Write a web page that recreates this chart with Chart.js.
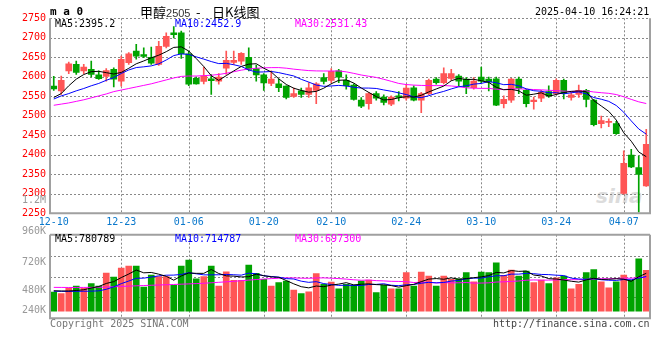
<!DOCTYPE html>
<html lang="zh-CN">
<head>
<meta charset="utf-8">
<title>甲醇2505 - 日K线图</title>
<script src="https://cdn.jsdelivr.net/npm/chart.js@4.4.1/dist/chart.umd.min.js"></script>
<style>
  html, body { margin: 0; padding: 0; background: #fff; }
  #wrap { position: relative; width: 660px; height: 360px; overflow: hidden;
          font-family: "DejaVu Sans Mono", monospace; font-size: 10px; }
  #wrap canvas { position: absolute; left: 0; top: 0; }
  .t { position: absolute; white-space: pre; line-height: 12px; z-index: 3; }
  .r { left: 6px; width: 40px; text-align: right; color: #999; }
  .wm { position: absolute; z-index: 0; left: 596px; top: 184px; font: italic bold 20px "DejaVu Sans", sans-serif; color: #dcdcdc; }
</style>
</head>
<body>
<div id="wrap">
  <div class="wm">sina</div>
  <canvas id="vol" width="660" height="360" style="z-index:1"></canvas>
  <canvas id="kline" width="660" height="360" style="z-index:2"></canvas>

  <!-- 상단 제목줄 -->
  <div class="t" style="left:50px;top:6px;font-weight:bold;font-size:11px;">m a 0</div>
  <div class="t" style="left:140px;top:5px;font:13px 'Noto Sans CJK SC';line-height:14px;">甲醇<span style="font:11px 'Liberation Sans';color:#333;">2505</span></div>
  <div class="t" style="left:196px;top:5px;font:13px 'Noto Sans CJK SC';line-height:14px;">-</div>
  <div class="t" style="left:212px;top:5px;font:13px 'Noto Sans CJK SC';line-height:14px;">日K线图</div>
  <div class="t" style="left:535px;top:6px;">2025-04-10 16:24:21</div>

  <!-- K선 이동평균 범례 -->
  <div class="t" style="left:55px;top:18px;color:#000;">MA5:2395.2</div>
  <div class="t" style="left:175px;top:18px;color:#0000ff;">MA10:2452.9</div>
  <div class="t" style="left:295px;top:18px;color:#ff00ff;">MA30:2531.43</div>

  <!-- 거래량 축 라벨 (원본 위치 그대로) -->
  <div class="t r" style="top:194px;">1.2M</div>
  <div class="t r" style="top:225px;">960K</div>
  <div class="t r" style="top:256px;">720K</div>
  <div class="t r" style="top:284px;">480K</div>
  <div class="t r" style="top:304px;">240K</div>

  <!-- 거래량 범례 -->
  <div class="t" style="left:55px;top:233px;color:#000;">MA5:780789</div>
  <div class="t" style="left:175px;top:233px;color:#0000ff;">MA10:714787</div>
  <div class="t" style="left:295px;top:233px;color:#ff00ff;">MA30:697300</div>

  <div class="t" style="left:50px;top:318px;color:#777;">Copyright 2025 SINA.COM</div>
  <div class="t" style="left:493px;top:318px;color:#444;">http://finance.sina.com.cn</div>
</div>

<script>
'use strict'
/* 데이터 시작 */
// 거래일 (MM-DD)
const dates = ['12-10','12-11','12-12','12-13','12-16','12-17','12-18','12-19','12-20','12-23',
  '12-24','12-25','12-26','12-27','12-30','12-31','01-02','01-03','01-06','01-07',
  '01-08','01-09','01-10','01-13','01-14','01-15','01-16','01-17','01-20','01-21',
  '01-22','01-23','01-24','01-27','02-05','02-06','02-07','02-10','02-11','02-12',
  '02-13','02-14','02-17','02-18','02-19','02-20','02-21','02-24','02-25','02-26',
  '02-27','02-28','03-03','03-04','03-05','03-06','03-07','03-10','03-11','03-12',
  '03-13','03-14','03-17','03-18','03-19','03-20','03-21','03-24','03-25','03-26',
  '03-27','03-28','03-31','04-01','04-02','04-03','04-07','04-08','04-09','04-10'];

// x축에 표시되는 날짜
const tickDates = ['12-10','12-23','01-06','01-20','02-10','02-24','03-10','03-24','04-07'];

// 가격축 눈금
const priceMin = 2250, priceMax = 2750, priceStep = 50;

// 시가 / 종가 / 고가 / 저가
const openP = [2576,2564,2615,2632,2615,2619,2605,2601,2619,2589,
  2636,2666,2657,2650,2632,2678,2713,2713,2659,2596,
  2588,2595,2589,2622,2637,2640,2650,2621,2605,2583,
  2582,2576,2550,2564,2555,2565,2598,2591,2615,2591,
  2579,2540,2531,2557,2548,2530,2551,2545,2572,2540,
  2557,2594,2585,2596,2602,2594,2572,2599,2594,2595,
  2531,2540,2594,2565,2536,2545,2562,2557,2591,2547,
  2555,2565,2540,2480,2483,2480,2301,2399,2367,2320];
const closeP = [2569,2591,2633,2611,2625,2606,2595,2616,2594,2645,
  2659,2653,2652,2635,2678,2704,2708,2659,2581,2582,
  2602,2590,2599,2642,2642,2660,2619,2605,2584,2594,
  2572,2547,2557,2555,2572,2582,2588,2614,2599,2577,
  2542,2525,2557,2545,2534,2548,2547,2571,2540,2557,
  2591,2585,2608,2608,2589,2574,2589,2589,2587,2527,
  2542,2594,2570,2531,2540,2560,2551,2591,2557,2554,
  2565,2542,2477,2488,2485,2454,2378,2369,2350,2427];
const highP = [2601,2602,2638,2640,2632,2640,2615,2621,2623,2653,
  2662,2683,2674,2676,2691,2713,2729,2717,2666,2600,
  2625,2606,2608,2666,2666,2662,2674,2630,2608,2615,
  2594,2577,2571,2571,2585,2585,2608,2621,2619,2605,
  2582,2547,2560,2562,2554,2551,2562,2581,2577,2560,
  2594,2598,2623,2619,2606,2598,2598,2625,2599,2599,
  2551,2596,2599,2568,2548,2565,2577,2595,2594,2560,
  2579,2568,2542,2499,2492,2486,2410,2414,2397,2465];
const lowP = [2565,2555,2608,2606,2608,2600,2593,2589,2574,2576,
  2632,2645,2649,2632,2629,2674,2700,2647,2577,2581,
  2582,2555,2581,2606,2632,2632,2615,2589,2565,2577,
  2562,2543,2547,2547,2547,2531,2582,2585,2585,2568,
  2540,2521,2517,2540,2528,2526,2538,2540,2538,2508,
  2554,2581,2582,2591,2576,2557,2568,2585,2564,2526,
  2520,2534,2557,2523,2517,2536,2547,2554,2543,2540,
  2547,2523,2474,2469,2472,2452,2299,2367,2253,2319];

// 가격 이동평균선
const ma5 = [2547,2557,2577,2594,2605.8,2613.2,2614,2610.6,2607.2,2611.2,
  2621.8,2633.4,2640.6,2648.8,2655.4,2664.4,2675.4,2676.8,2666,2646.8,
  2626.4,2602.8,2590.8,2603,2615,2626.6,2632.4,2633.6,2622,2612.4,
  2594.8,2580.4,2570.8,2565,2560.6,2562.6,2570.8,2582.2,2591,2592,
  2584,2571.4,2560,2549.2,2540.6,2541.8,2546.2,2549,2548,2552.6,
  2561.2,2568.8,2576.2,2589.8,2596.2,2592.8,2593.6,2589.8,2585.6,2573.2,
  2566.8,2567.8,2564,2552.8,2555.4,2559,2550.4,2554.6,2559.8,2562.6,
  2563.6,2561.8,2539,2525.2,2511.4,2489.2,2456.4,2434.8,2407.2,2395.2];
const ma10 = [2543,2551,2557,2564,2570,2577,2583,2591,2598,2608.5,
  2617.5,2623.7,2625.6,2628,2633.3,2643.1,2654.4,2658.7,2657.4,2651.1,
  2645.4,2639.1,2633.8,2634.5,2630.9,2626.5,2617.6,2612.2,2612.5,2613.7,
  2610.7,2606.4,2602.2,2593.5,2586.5,2578.7,2575.6,2576.5,2578,2576.3,
  2573.3,2571.1,2571.1,2570.1,2566.3,2562.9,2558.8,2554.5,2548.6,2546.6,
  2551.5,2557.5,2562.6,2568.9,2574.4,2577,2581.2,2583,2587.7,2584.7,
  2579.8,2580.7,2576.9,2569.2,2564.3,2562.9,2559.1,2559.3,2556.3,2559,
  2561.3,2556.1,2546.8,2542.5,2537,2526.4,2509.1,2486.9,2466.2,2452.9];
const ma30 = [2527,2530,2533,2537,2541,2546,2551,2556,2562,2566,
  2570,2574,2578,2582,2587,2592,2597,2601,2602,2602,
  2603,2604,2606,2609,2613,2617,2620,2622,2623,2623.5,
  2623.6,2622.1,2619.6,2617.7,2615.9,2615.1,2614.9,2614.8,2615,2612.7,
  2608.8,2604.6,2601.4,2598.4,2593.6,2588.4,2583,2580.1,2578.7,2577.9,
  2577.5,2577.3,2577.6,2576.5,2574.7,2571.8,2570.8,2570.3,2570.4,2568.2,
  2567.2,2568.8,2569.2,2568.4,2567.3,2566.6,2565.4,2564.6,2563.2,2562.4,
  2563.2,2563.8,2561.1,2559.2,2557.6,2554.5,2548.8,2542.1,2535.8,2531.43];

// 거래량 (단위: 천)
const volume = [393,359,469,517,469,566,517,787,704,890,
  931,931,497,745,711,711,531,931,1056,669,
  711,931,517,814,635,635,952,780,656,517,
  587,621,435,359,400,773,552,600,462,552,
  538,621,642,380,531,462,462,794,517,807,
  725,517,725,656,669,794,607,807,794,1000,
  738,849,725,828,587,642,566,690,725,462,
  552,794,856,607,483,607,745,635,1083,842];
const volMa5 = [420,415,415,425,441,476,508,571,609,693,
  766,849,791,799,763,719,639,726,788,780,
  780,860,777,728,722,706,711,763,732,708,
  698,632,563,504,480,518,504,537,557,588,
  541,555,563,547,542,527,495,526,553,608,
  661,672,658,686,658,672,690,707,734,800,
  789,838,821,828,745,726,670,663,642,617,
  599,645,678,654,658,669,660,615,711,780.8];
const volMa10 = [410,408,406,408,410,412,418,450,500,567,
  621,678,681,704,728,742,744,758,793,771,
  749,749,751,758,751,743,785,770,730,715,
  702,671,663,618,594,608,568,550,531,534,
  529,529,550,552,565,534,525,544,550,575,
  594,584,592,620,633,667,681,682,710,729,
  731,764,764,781,773,758,754,742,735,681,
  663,657,670,648,638,634,652,647,682,714.8];
const volMa30 = [490,489,488,488,489,490,492,496,502,510,
  516,522,528,534,539,544,550,556,562,568,
  575,585,595,605,615,628,640,652,662,671.5,
  678,686.7,685.6,680.3,678,684.9,686.1,679.8,671.8,660.5,
  647.4,637,641.9,629.7,623.7,615.4,613.1,608.5,590.5,595.1,
  595.6,581.8,588.7,583.5,584.6,589.9,578.4,579.3,583.9,600,
  605,612.6,622.3,637.9,644.1,639.7,640.2,643.2,651.9,648.9,
  649.4,655.2,662.3,669.9,668.3,673.1,682.5,677.2,696.1,697.3];

// 거래량 축 범위 (원본 비율에 맞춤)
const volMin = -150, volMax = 1580;
/* 데이터 끝 */

const upColor = '#ff5555';   // 양봉
const downColor = '#00a300'; // 음봉
const gridColor = '#888888';
const frameColor = '#a0a0a0';

Chart.defaults.font.family = "'DejaVu Sans Mono', monospace";
Chart.defaults.font.size = 10;

// 봉 색상
const candleColor = closeP.map((c, i) => (c >= openP[i] ? upColor : downColor));

// 점선 격자 + 테두리 (축의 눈금 위치를 그대로 사용)
const framePlugin = {
  id: 'frame',
  beforeDatasetsDraw(chart) {
    const { ctx, chartArea: { left, right, top, bottom } } = chart;
    const xs = chart.scales.x, ys = chart.scales.y;
    ctx.save();
    ctx.strokeStyle = gridColor;
    ctx.lineWidth = 1;
    ctx.setLineDash([2, 2]);
    ctx.beginPath();
    ys.ticks.forEach((t, i) => {
      const y = Math.round(ys.getPixelForTick(i)) + 0.5;
      ctx.moveTo(left, y); ctx.lineTo(right, y);
    });
    xs.ticks.forEach((t, i) => {
      if (t.value === 0) return;
      const x = Math.round(xs.getPixelForTick(i)) + 0.5;
      ctx.moveTo(x, top); ctx.lineTo(x, bottom);
    });
    ctx.stroke();
    ctx.restore();
  },
  afterDatasetsDraw(chart, args, opts) {
    const { ctx, chartArea: { left, right, top, bottom } } = chart;
    ctx.save();
    ctx.strokeStyle = frameColor;
    ctx.lineWidth = 2;
    ctx.beginPath();
    if (opts.top) { ctx.moveTo(left, top); ctx.lineTo(right, top); }
    ctx.moveTo(left, top); ctx.lineTo(left, bottom);
    ctx.moveTo(right, top); ctx.lineTo(right, bottom);
    ctx.moveTo(left - 1, bottom); ctx.lineTo(right + 1, bottom);
    ctx.stroke();
    ctx.restore();
  }
};

// 이동평균선 데이터셋
function maLine(label, data, color) {
  return {
    type: 'line', label: label, data: data,
    borderColor: color, borderWidth: 1, pointRadius: 0, tension: 0, order: 0
  };
}

/* K선 차트 */
new Chart(document.getElementById('kline'), {
  type: 'bar',
  data: {
    labels: dates,
    datasets: [
      maLine('MA5', ma5, '#000000'),
      maLine('MA10', ma10, '#0000ff'),
      maLine('MA30', ma30, '#ff00ff'),
      { // 꼬리
        label: 'wick', data: lowP.map((l, i) => [l, highP[i]]),
        backgroundColor: candleColor, barThickness: 1, grouped: false, order: 2
      },
      { // 몸통
        label: 'body', data: openP.map((o, i) => [o, closeP[i]]),
        backgroundColor: candleColor, barThickness: 6, minBarLength: 1, grouped: false, order: 1
      }
    ]
  },
  options: {
    responsive: false,
    animation: false,
    devicePixelRatio: 1,
    layout: { padding: { top: 18.3, right: 10, bottom: 129.7, left: 0 } },
    plugins: { legend: { display: false }, tooltip: { enabled: false }, frame: { top: false } },
    scales: {
      x: {
        offset: true,
        afterBuildTicks: (scale) => {
          scale.ticks = scale.ticks.filter(t => tickDates.includes(dates[t.value]));
        },
        afterFit: (scale) => { scale.height = 17; },
        grid: { display: false, drawTicks: false },
        border: { display: false },
        ticks: { autoSkip: false, maxRotation: 0, padding: 3, color: '#0a78cc' }
      },
      y: {
        min: priceMin, max: priceMax,
        afterFit: (scale) => { scale.width = 50; },
        grid: { display: false, drawTicks: false },
        border: { display: false },
        ticks: { stepSize: priceStep, padding: 4, color: '#ff0000', callback: (v) => String(v) }
      }
    }
  },
  plugins: [framePlugin]
});

/* 거래량 차트 */
new Chart(document.getElementById('vol'), {
  type: 'bar',
  data: {
    labels: dates,
    datasets: [
      maLine('MA5', volMa5, '#000000'),
      maLine('MA10', volMa10, '#0000ff'),
      maLine('MA30', volMa30, '#ff00ff'),
      { label: 'volume', data: volume, backgroundColor: candleColor, barThickness: 6, order: 1 }
    ]
  },
  options: {
    responsive: false,
    animation: false,
    devicePixelRatio: 1,
    layout: { padding: { top: 234.7, right: 10, bottom: 41.7, left: 0 } },
    plugins: { legend: { display: false }, tooltip: { enabled: false }, frame: { top: true } },
    scales: {
      x: {
        offset: true,
        afterBuildTicks: (scale) => {
          scale.ticks = scale.ticks.filter(t => tickDates.includes(dates[t.value]));
        },
        afterFit: (scale) => { scale.height = 0; },
        grid: { display: false, drawTicks: false },
        border: { display: false },
        ticks: { display: false, autoSkip: false }
      },
      y: {
        min: volMin, max: volMax,
        afterBuildTicks: (scale) => {
          const q = (volMax - volMin) / 4;
          scale.ticks = [1, 2, 3].map(k => ({ value: volMin + q * k }));
        },
        afterFit: (scale) => { scale.width = 50; },
        grid: { display: false, drawTicks: false },
        border: { display: false },
        ticks: { display: false }
      }
    }
  },
  plugins: [framePlugin]
});
</script>
</body>
</html>
